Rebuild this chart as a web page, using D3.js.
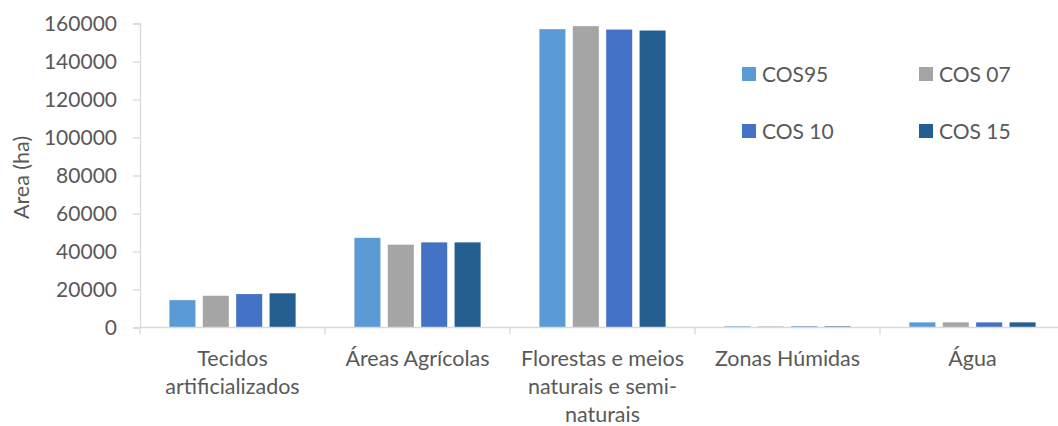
<!DOCTYPE html>
<html>
<head>
<meta charset="utf-8">
<script src="https://cdn.jsdelivr.net/npm/d3@7"></script>
<style>
  html, body { margin: 0; padding: 0; background: #fff; }
  svg { display: block; }
  text { font-family: Lato, "Open Sans", sans-serif; fill: #595959; }
</style>
</head>
<body>
<svg id="chart" width="1058" height="426"></svg>
<script>
// Land-cover area per class for each COS map edition (hectares)
const categories = ["Tecidos artificializados", "Áreas Agrícolas", "Florestas e meios naturais e semi-naturais", "Zonas Húmidas", "Água"];
const categoryLines = [
  ["Tecidos", "artificializados"],
  ["Áreas Agrícolas"],
  ["Florestas e meios", "naturais e semi-", "naturais"],
  ["Zonas Húmidas"],
  ["Água"]
];
const series = ["COS95", "COS 07", "COS 10", "COS 15"];
const cos95 = [14400, 47200, 157000, 600, 2700];
const cos07 = [16700, 43600, 158600, 550, 2700];
const cos10 = [17600, 44800, 156800, 600, 2700];
const cos15 = [18000, 44800, 156300, 600, 2700];
const seriesValues = [cos95, cos07, cos10, cos15];
const colors = ["#5B9BD5", "#A5A5A5", "#4472C4", "#255E91"];
const yTicks = [0, 20000, 40000, 60000, 80000, 100000, 120000, 140000, 160000];

const svg = d3.select("#chart");
const axisColor = "#D9D9D9";

const plotLeft = 140, plotRight = 1065, plotTop = 23.5, plotBottom = 327.5;

const x0 = d3.scaleBand().domain(categories).range([plotLeft, plotRight]).padding(0);
const x1 = d3.scaleBand().domain(series).range([0, x0.bandwidth()])
  .paddingInner(0.22).paddingOuter(0.88);
const y = d3.scaleLinear().domain([0, 160000]).range([plotBottom, plotTop]);

// Y axis
const yAxis = svg.append("g")
  .attr("transform", `translate(${plotLeft},0)`)
  .call(d3.axisLeft(y).tickValues(yTicks).tickFormat(d3.format("d")).tickSize(7).tickPadding(16));
yAxis.select(".domain").attr("stroke", axisColor).attr("stroke-width", 1.3);
yAxis.selectAll(".tick line").attr("stroke", axisColor).attr("stroke-width", 1.3);
yAxis.selectAll(".tick text")
  .attr("fill", "#595959")
  .style("font-size", "21px")
  .style("font-family", "Lato, sans-serif");

// Y axis title
svg.append("text")
  .attr("transform", `translate(29,${(plotTop + plotBottom) / 2 + 2}) rotate(-90)`)
  .attr("text-anchor", "middle")
  .style("font-size", "21.5px")
  .text("Area (ha)");

// Bars
const groups = svg.append("g").selectAll("g")
  .data(categories)
  .join("g")
  .attr("transform", d => `translate(${x0(d)},0)`);

groups.selectAll("rect")
  .data((c, ci) => series.map((s, si) => ({ s, si, v: seriesValues[si][ci] })))
  .join("rect")
  .attr("x", d => x1(d.s))
  .attr("width", x1.bandwidth())
  .attr("y", d => y(d.v))
  .attr("height", d => y(0) - y(d.v))
  .attr("fill", d => colors[d.si]);

// X axis line and category boundary ticks
const xAxis = svg.append("g");
xAxis.append("line")
  .attr("x1", plotLeft).attr("x2", plotRight)
  .attr("y1", plotBottom).attr("y2", plotBottom)
  .attr("stroke", axisColor).attr("stroke-width", 1.3);
const boundaries = categories.map(c => x0(c)).concat([x0(categories[categories.length - 1]) + x0.bandwidth()]);
xAxis.selectAll("line.tick")
  .data(boundaries)
  .join("line")
  .attr("class", "tick")
  .attr("x1", d => d).attr("x2", d => d)
  .attr("y1", plotBottom).attr("y2", plotBottom + 7)
  .attr("stroke", axisColor).attr("stroke-width", 1.3);

// Category labels
xAxis.selectAll("text.cat")
  .data(categories)
  .join("text")
  .attr("class", "cat")
  .attr("text-anchor", "middle")
  .style("font-size", "21.5px")
  .each(function (c, i) {
    const t = d3.select(this);
    categoryLines[i].forEach((line, li) => {
      t.append("tspan")
        .attr("x", x0(c) + x0.bandwidth() / 2)
        .attr("y", 365.5 + li * 28.3)
        .text(line);
    });
  });

// Legend
const legendPos = [[742, 67], [919, 67], [742, 124], [919, 124]];
const legend = svg.append("g").selectAll("g")
  .data(series)
  .join("g")
  .attr("transform", (d, i) => `translate(${legendPos[i][0]},${legendPos[i][1]})`);
legend.append("rect")
  .attr("width", 14).attr("height", 14)
  .attr("fill", (d, i) => colors[i]);
legend.append("text")
  .attr("x", 20).attr("y", 14.5)
  .style("font-size", "21px")
  .text(d => d);
</script>
</body>
</html>
